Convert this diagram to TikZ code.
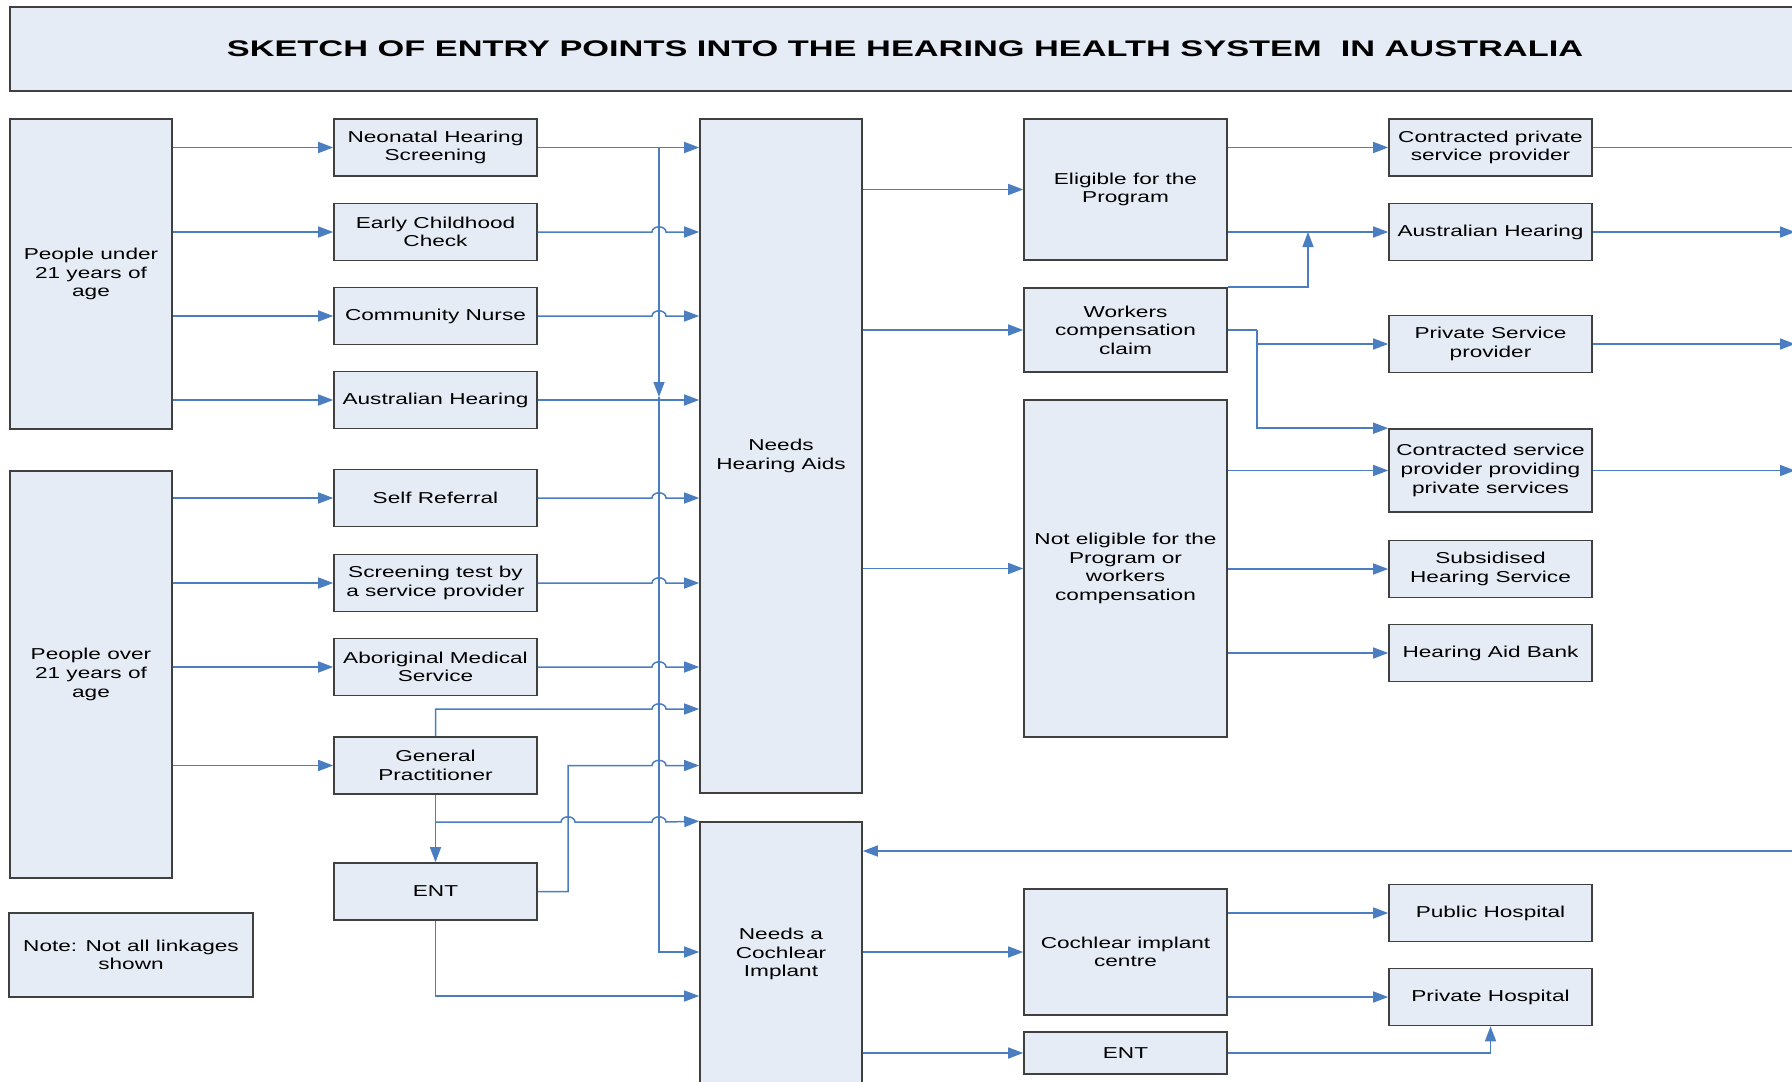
\documentclass[tikz,border=0pt]{standalone}
\usepackage{fontspec}
\setmainfont{Liberation Sans}[FakeStretch=1.43]
\newfontfamily\titlefont{Liberation Sans}[FakeStretch=1.52]
\usetikzlibrary{arrows.meta}

\definecolor{boxfill}{RGB}{230,236,246}
\definecolor{boxline}{RGB}{64,64,64}
\definecolor{linkblue}{RGB}{74,126,193}

\tikzset{
  box/.style={draw=boxline,fill=boxfill,line width=0.8pt,align=center,inner sep=1pt,
    font=\fontsize{7.9}{9.3}\selectfont},
  small/.style={box,minimum width=101.5pt,minimum height=28.5pt},
  wide/.style={box,minimum width=101.5pt},
  tall/.style={box,minimum width=81pt},
  line/.style={draw=linkblue,line width=0.75pt},
  link/.style={line,-{Triangle[length=7.5pt,width=5.5pt]}},
  hop/.style={start angle=180,end angle=0,x radius=3.5pt,y radius=2.6pt}
}

\begin{document}
\begin{tikzpicture}[x=0.5pt,y=-0.5pt]
  \useasboundingbox (0,0) rectangle (1792,1081);
  \clip (0,0) rectangle (1792,1081);

  \node[box,minimum width=895pt,minimum height=42pt,font=\titlefont\fontsize{11.3}{13}\selectfont\bfseries] (title) at (905,49)
    {SKETCH OF ENTRY POINTS INTO THE HEARING HEALTH SYSTEM \ IN AUSTRALIA};

  \node[tall,minimum height=155pt] (under) at (91,274) {People under\\21 years of\\age};
  \node[tall,minimum height=203.5pt] (over) at (91,674.5) {People over\\21 years of\\age};
  \node[box,minimum width=122pt,minimum height=42pt] (note) at (131,955) {Note: Not all linkages\\shown};

  \node[small] (neo) at (435.5,147.5) {Neonatal Hearing\\Screening};
  \node[small] (ecc) at (435.5,232) {Early Childhood\\Check};
  \node[small] (cn) at (435.5,316) {Community Nurse};
  \node[small] (ah) at (435.5,400) {Australian Hearing};
  \node[small] (sr) at (435.5,498) {Self Referral};
  \node[small] (st) at (435.5,583) {Screening test by\\a service provider};
  \node[small] (ams) at (435.5,667) {Aboriginal Medical\\Service};
  \node[small] (gp) at (435.5,765.5) {General\\Practitioner};
  \node[small] (ent) at (435.5,891.5) {ENT};

  \node[tall,minimum height=337pt] (nha) at (781,456) {Needs\\Hearing Aids};
  \node[tall,minimum height=132pt] (nci) at (781,954) {Needs a\\Cochlear\\Implant};

  \node[wide,minimum height=70.5pt] (elig) at (1125.5,189.5) {Eligible for the\\Program};
  \node[wide,minimum height=42pt] (wcc) at (1125.5,330) {Workers\\compensation\\claim};
  \node[wide,minimum height=168.5pt] (nelig) at (1125.5,568.5) {Not eligible for the\\Program or\\workers\\compensation};
  \node[wide,minimum height=63pt] (cic) at (1125.5,952) {Cochlear implant\\centre};
  \node[wide,minimum height=21pt] (ent2) at (1125.5,1053) {ENT};

  \node[small] (cpsp) at (1490.5,147.5) {Contracted private\\service provider};
  \node[small] (ah2) at (1490.5,232) {Australian Hearing};
  \node[small] (psp) at (1490.5,344) {Private Service\\provider};
  \node[wide,minimum height=41.5pt] (csp) at (1490.5,470.5) {Contracted service\\provider providing\\private services};
  \node[small] (shs) at (1490.5,569) {Subsidised\\Hearing Service};
  \node[small] (hab) at (1490.5,653) {Hearing Aid Bank};
  \node[small] (pub) at (1490.5,913) {Public Hospital};
  \node[small] (priv) at (1490.5,997) {Private Hospital};

  \coordinate (bus) at (659,147.5);
  \coordinate (gptop) at (435.5,709);
  \coordinate (gpfork) at (435.5,822);
  \coordinate (entup) at (568,765.5);
  \coordinate (entlow) at (435.5,996);
  \coordinate (wjoin) at (1308,232);
  \coordinate (wsplit) at (1257,330);
  \coordinate (edge) at (1795,0);
  \coordinate (back) at (1800,851);

  \foreach \s in {neo,ecc,cn,ah} \draw[link] (under.east |- \s.west) -- (\s.west);
  \foreach \s in {sr,st,ams,gp} \draw[link] (over.east |- \s.west) -- (\s.west);

  \draw[link] (neo.east) -- (neo.east -| nha.west);
  \draw[link] (ah.east) -- (ah.east -| nha.west);
  \foreach \s in {ecc,cn,sr,st,ams}
    \draw[link] (\s.east) -- ([xshift=-3.5pt]bus |- \s.east) arc[hop] -- (\s.east -| nha.west);
  \draw[link] (bus) -- ([yshift=1.5pt]bus |- ah.east);
  \draw[link] ([yshift=1.5pt]bus |- ah.east) -- (bus |- cic.west) -- (nci.west |- cic.west);

  \draw[link] (gp.north) -- (gptop) -- ([xshift=-3.5pt]bus |- gptop) arc[hop] -- (gptop -| nha.west);
  \draw[link] (gp.south) -- (ent.north);
  \draw[link] (gpfork) -- ([xshift=-3.5pt]entup |- gpfork) arc[hop]
    -- ([xshift=-3.5pt]bus |- gpfork) arc[hop] -- (nci.north west);
  \draw[link] (ent.east) -| (entup) -- ([xshift=-3.5pt]bus |- entup) arc[hop] -- (entup -| nha.west);
  \draw[link] (ent.south) -- (entlow) -- (entlow -| nci.west);

  \foreach \t in {elig,wcc,nelig} \draw[link] (nha.east |- \t.west) -- (\t.west);
  \draw[link] (elig.east |- cpsp.west) -- (cpsp.west);
  \draw[link] (elig.east |- ah2.west) -- (ah2.west);
  \draw[link] (wcc.north east) -| (wjoin);
  \draw[line] (wcc.east) -- (wsplit);
  \draw[link] (wsplit) |- (psp.west);
  \draw[link] (wsplit) |- (csp.north west);
  \foreach \t in {csp,shs,hab} \draw[link] (nelig.east |- \t.west) -- (\t.west);

  \draw[line] (cpsp.east) -- (cpsp.east -| edge);
  \foreach \t in {ah2,psp,csp} \draw[link] (\t.east) -- (\t.east -| edge);
  \draw[link] (back) -- (back -| nci.east);

  \foreach \t in {cic,ent2} \draw[link] (nci.east |- \t.west) -- (\t.west);
  \draw[link] (cic.east |- pub.west) -- (pub.west);
  \draw[link] (cic.east |- priv.west) -- (priv.west);
  \draw[link] (ent2.east) -| (priv.south);
\end{tikzpicture}
\end{document}
